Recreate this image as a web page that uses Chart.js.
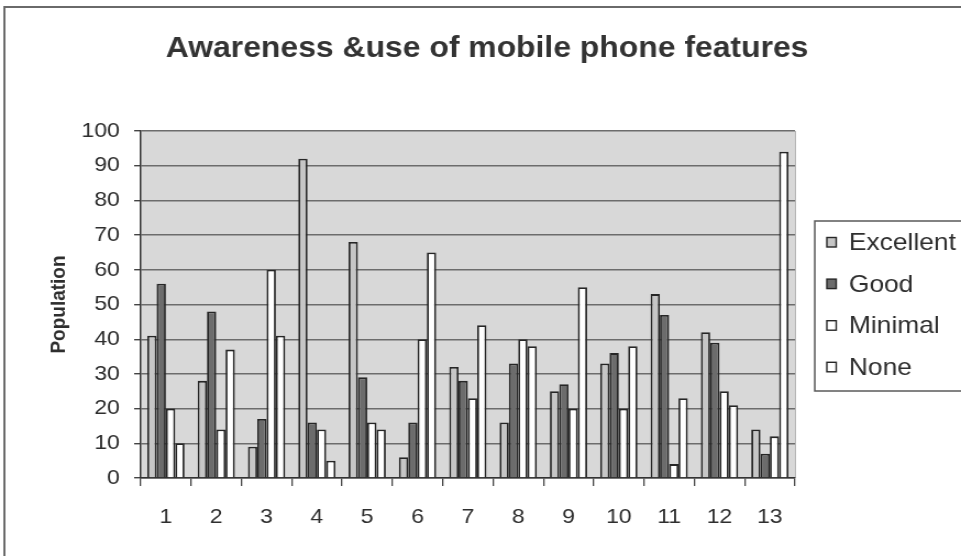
<!DOCTYPE html>
<html>
<head>
<meta charset="utf-8">
<title>Awareness &amp;use of mobile phone features</title>
<script src="https://cdn.jsdelivr.net/npm/chart.js@4.4.1/dist/chart.umd.min.js"></script>
<style>
  html, body { margin: 0; padding: 0; background: #ffffff; overflow: hidden; }
</style>
</head>
<body>
<canvas id="c" width="874" height="556" style="display:block;width:961px;height:556px"></canvas>
<script>
// Feature numbers along the x axis
const categories = ['1', '2', '3', '4', '5', '6', '7', '8', '9', '10', '11', '12', '13'];

// Population per awareness level, one value per feature
const excellent = [41, 28, 9, 92, 68, 6, 32, 16, 25, 33, 53, 42, 14];
const good      = [56, 48, 17, 16, 29, 16, 28, 33, 27, 36, 47, 39, 7];
const minimal   = [20, 14, 60, 14, 16, 40, 23, 40, 20, 20, 4, 25, 12];
const none      = [10, 37, 41, 5, 14, 65, 44, 38, 55, 38, 23, 21, 94];

const seriesNames = ['Excellent', 'Good', 'Minimal', 'None'];
const yTicks = [0, 10, 20, 30, 40, 50, 60, 70, 80, 90, 100];

const chartTitle = 'Awareness &use of mobile phone features';
const yTitle = 'Population';

const FONT = "'Liberation Sans', Arial, Helvetica, sans-serif";
const TEXT = '#2e2e2e';
const EDGE = '#262626';
const fills = ['#c6c6c6', '#6c6c6c', '#ffffff', '#ffffff'];

// Plot background, frame, title and boxed legend
const decorations = {
  id: 'decorations',
  beforeDraw(chart) {
    const { ctx, chartArea: a } = chart;
    ctx.save();
    ctx.fillStyle = '#d8d8d8';
    ctx.fillRect(a.left, a.top, a.right - a.left, a.bottom - a.top);
    ctx.strokeStyle = '#b4b4b4';
    ctx.lineWidth = 1;
    ctx.beginPath();
    ctx.moveTo(a.right + 0.5, a.top);
    ctx.lineTo(a.right + 0.5, a.bottom);
    ctx.stroke();
    ctx.restore();
  },
  afterDraw(chart) {
    const { ctx } = chart;
    ctx.save();
    // outer frame
    ctx.strokeStyle = '#6a6a6a';
    ctx.lineWidth = 2;
    ctx.strokeRect(4, 7, 1000, 1000);

    // title
    ctx.fillStyle = '#333333';
    ctx.font = 'bold 29px ' + FONT;
    ctx.textAlign = 'center';
    ctx.textBaseline = 'alphabetic';
    ctx.fillText(chartTitle, 443, 57);

    // legend box
    ctx.strokeStyle = '#5a5a5a';
    ctx.lineWidth = 1.5;
    ctx.strokeRect(741, 221, 300, 170);
    ctx.font = '24px ' + FONT;
    ctx.textAlign = 'left';
    chart.data.datasets.forEach((ds, i) => {
      const base = 250 + i * 41.6;
      ctx.fillStyle = ds.backgroundColor;
      ctx.fillRect(752, base - 12.5, 8.5, 9.5);
      ctx.strokeStyle = EDGE;
      ctx.lineWidth = 1.4;
      ctx.strokeRect(752, base - 12.5, 8.5, 9.5);
      ctx.fillStyle = TEXT;
      ctx.fillText(ds.label, 772, base);
    });
    ctx.restore();
  }
};

const seriesValues = [excellent, good, minimal, none];

new Chart(document.getElementById('c'), {
  type: 'bar',
  data: {
    labels: categories,
    datasets: seriesNames.map((name, i) => ({
      label: name,
      data: seriesValues[i],
      backgroundColor: fills[i],
      borderColor: EDGE,
      borderWidth: 1.8,
      categoryPercentage: 0.74,
      barPercentage: 1.0
    }))
  },
  options: {
    responsive: false,
    animation: false,
    devicePixelRatio: 1,
    layout: { padding: { left: 0, top: 131, right: 151, bottom: 0 } },
    plugins: {
      legend: { display: false },
      title: { display: false },
      tooltip: { enabled: false }
    },
    scales: {
      x: {
        type: 'category',
        offset: true,
        grid: {
          offset: true,
          drawOnChartArea: false,
          drawTicks: true,
          tickLength: 8,
          color: '#444444',
          lineWidth: 1.3
        },
        border: { display: true, color: '#333333', width: 1.5 },
        ticks: {
          font: { family: FONT, size: 21 },
          color: TEXT,
          padding: 19,
          maxRotation: 0,
          autoSkip: false
        },
        afterFit(scale) { scale.height = 78; }
      },
      y: {
        min: 0,
        max: 100,
        afterBuildTicks(scale) { scale.ticks = yTicks.map(v => ({ value: v })); },
        grid: {
          drawOnChartArea: true,
          drawTicks: true,
          tickLength: 6,
          color: '#6c6c6c',
          tickColor: '#444444',
          lineWidth: 1.4
        },
        border: { display: true, color: '#333333', width: 1.5 },
        ticks: {
          font: { family: FONT, size: 21 },
          color: TEXT,
          padding: 13
        },
        title: {
          display: true,
          text: yTitle,
          font: { family: FONT, size: 19, weight: 'bold' },
          color: TEXT,
          padding: { top: 42, bottom: 0 }
        },
        afterFit(scale) { scale.width = 128; }
      }
    }
  },
  plugins: [decorations]
});
</script>
</body>
</html>
